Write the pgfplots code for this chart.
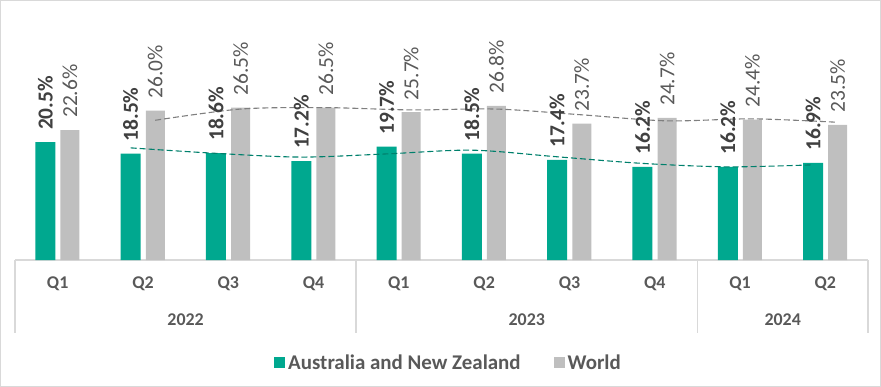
\documentclass[border=0pt]{standalone}
\usepackage{graphicx}
\usepackage{pgfplots}
\usepackage{pgfplotstable}
\pgfplotsset{compat=1.18}
\usepackage{fontspec}
\setmainfont{Carlito}
\definecolor{anz}{HTML}{00A88F}
\definecolor{wld}{HTML}{BFBFBF}
\definecolor{txt}{HTML}{595959}
\definecolor{lbl}{HTML}{404040}
\definecolor{gridc}{HTML}{D9D9D9}
\definecolor{anztr}{HTML}{00806C}
\definecolor{wldtr}{HTML}{7F7F7F}
\pgfplotstableread{
x y
0 20.5
1 18.5
2 18.6
3 17.2
4 19.7
5 18.5
6 17.4
7 16.2
8 16.2
9 16.9
}\anzdata
\pgfplotstableread{
x y
0 22.6
1 26.0
2 26.5
3 26.5
4 25.7
5 26.8
6 23.7
7 24.7
8 24.4
9 23.5
}\wlddata
\begin{document}
\begin{tikzpicture}
\begin{axis}[
  at={(0,0)}, anchor=south west,
  scale only axis, width=853bp, height=230bp,
  xmin=-0.5, xmax=9.5, ymin=0, ymax=40,
  clip=false,
  axis line style={draw=none},
  ytick=\empty,
  xtick={0,...,9},
  xticklabels={Q1,Q2,Q3,Q4,Q1,Q2,Q3,Q4,Q1,Q2},
  major tick length=0pt,
  xticklabel style={font=\fontsize{18}{18}\selectfont\bfseries, text=txt, anchor=center, yshift=-24bp},
  legend columns=2,
  legend style={at={(0.5088,-0.4478)}, anchor=center, draw=none, fill=none,
    font=\fontsize{21}{22}\selectfont\bfseries, text=txt,
    /tikz/every even column/.append style={column sep=30bp},
    nodes={inner xsep=3bp}},
]
\draw[gridc, line width=1.5bp] (axis cs:-0.5,0) -- (axis cs:9.5,0);
\draw[gridc, line width=1.5bp] (axis cs:-0.5,0) -- ([yshift=-73bp]axis cs:-0.5,0);
\draw[gridc, line width=1.5bp] (axis cs:3.5,0) -- ([yshift=-73bp]axis cs:3.5,0);
\draw[gridc, line width=1.5bp] (axis cs:7.5,0) -- ([yshift=-73bp]axis cs:7.5,0);
\draw[gridc, line width=1.5bp] (axis cs:9.5,0) -- ([yshift=-73bp]axis cs:9.5,0);
\node[font=\fontsize{18}{18}\selectfont\bfseries, text=txt, anchor=center] at ([yshift=-60bp]axis cs:1.5,0) {2022};
\node[font=\fontsize{18}{18}\selectfont\bfseries, text=txt, anchor=center] at ([yshift=-60bp]axis cs:5.5,0) {2023};
\node[font=\fontsize{18}{18}\selectfont\bfseries, text=txt, anchor=center] at ([yshift=-60bp]axis cs:8.5,0) {2024};
\addplot[ybar, bar width=20bp, bar shift=-12.3bp, fill=anz, draw=none,
  legend image code/.code={\fill[anz] (0bp,-5.5bp) rectangle (11bp,5.5bp);}]
  table[x=x, y=y] {\anzdata};
\addlegendentry{Australia and New Zealand}
\addplot[ybar, bar width=19bp, bar shift=12.3bp, fill=wld, draw=none,
  legend image code/.code={\fill[wld] (0bp,-5.5bp) rectangle (11bp,5.5bp);}]
  table[x=x, y=y] {\wlddata};
\addlegendentry{World}
% data labels
\addplot[forget plot, only marks, mark=none,
  nodes near coords={\rotatebox{90}{\pgfmathprintnumber[fixed,fixed zerofill,precision=1,assume math mode=true]{\pgfplotspointmeta}\%}},
  every node near coord/.append style={anchor=south, inner ysep=12bp, inner xsep=0pt, text=lbl, font=\fontsize{21.5}{21.5}\selectfont\bfseries}]
  table[x expr=\thisrow{x}-0.144, y=y] {\anzdata};
\addplot[forget plot, only marks, mark=none,
  nodes near coords={\rotatebox{90}{\pgfmathprintnumber[fixed,fixed zerofill,precision=1,assume math mode=true]{\pgfplotspointmeta}\%}},
  every node near coord/.append style={anchor=south, inner ysep=12bp, inner xsep=0pt, text=txt, font=\fontsize{21.5}{21.5}\selectfont}]
  table[x expr=\thisrow{x}+0.144, y=y] {\wlddata};
% trend lines (2-period moving average)
\addplot[forget plot, smooth, no markers, anztr, line width=1.1bp, dash pattern=on 6bp off 3bp]
  coordinates {(0.856,19.5) (1.856,18.55) (2.856,17.9) (3.856,18.45) (4.856,19.1) (5.856,17.95) (6.856,16.8) (7.856,16.2) (8.856,16.55)};
\addplot[forget plot, smooth, no markers, wldtr, line width=1.1bp, dash pattern=on 6bp off 3bp]
  coordinates {(1.144,24.3) (2.144,26.25) (3.144,26.5) (4.144,26.1) (5.144,26.25) (6.144,25.25) (7.144,24.2) (8.144,24.55) (9.144,23.95)};
\end{axis}
\draw[gridc, line width=1.5bp] (-14.25bp,-126.25bp) rectangle (865.25bp,259.25bp);
\end{tikzpicture}
\end{document}
